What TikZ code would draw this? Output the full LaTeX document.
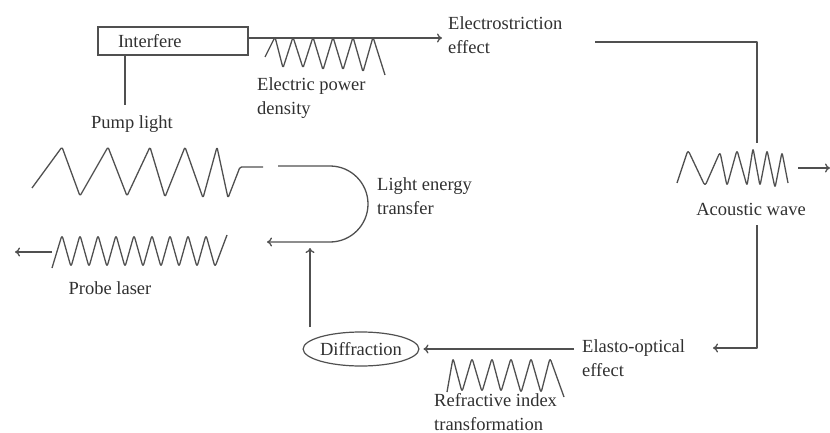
\documentclass[tikz,border=0pt]{standalone}
\usepackage{fontspec}
\setmainfont{Liberation Serif}
\usetikzlibrary{arrows.meta,shapes.geometric}
\definecolor{ln}{HTML}{505050}
\definecolor{tx}{HTML}{303030}
\begin{document}
\begin{tikzpicture}[x=1pt,y=-1pt,
  line/.style={draw=ln,line width=1.3pt,line join=round},
  wave/.style={draw=ln,line width=1.3pt,line join=round,rounded corners=1.5pt},
  swave/.style={draw=ln,line width=1.3pt,line join=round,rounded corners=3pt},
  arr/.style={line,-{To[length=5pt,width=9pt]}},
  lbl/.style={text=tx,inner sep=0pt,align=left,font=\fontsize{18.5}{23.5}\selectfont},
  clbl/.style={text=tx,inner sep=0pt,align=center,font=\fontsize{18.5}{23.5}\selectfont}]
\useasboundingbox (0,0) rectangle (830,433);

% Interfere box
\node[draw=ln,line width=1.3pt,minimum width=150pt,minimum height=28pt,inner xsep=20pt,text width=110pt,align=left,text=tx,font=\fontsize{18.5}{23.5}\selectfont] (interfere) at (173,41) {Interfere};

% Labels
\node[lbl,anchor=west] (es) at (448,35) {Electrostriction\\effect};
\node[lbl,anchor=west] (epd) at (257,98) {Electric power\\density};
\node[clbl] (pump) at (132,124) {Pump light};
\node[clbl] (probe) at (110,288) {Probe laser};
\node[lbl,anchor=west] (let) at (377,196) {Light energy\\transfer};
\node[clbl] (ac) at (751,209) {Acoustic wave};
\node[lbl,anchor=west] (eo) at (582,358) {Elasto-optical\\effect};
\node[lbl,anchor=west] (rit) at (434,412) {Refractive index\\transformation};
\node[draw=ln,line width=1.2pt,ellipse,minimum width=113pt,minimum height=34pt,inner sep=0pt,text=tx,font=\fontsize{18.5}{23.5}\selectfont] (diff) at (361,349) {Diffraction};

% Interfere -> Electrostriction
\draw[arr] ([yshift=3pt]interfere.east) -- ([yshift=3pt,xshift=-6pt]interfere.east -| es.west);
% Interfere down to pump light
\coordinate (pl) at (125,105);
\draw[line] (pl |- interfere.south) -- (pl);

% Electric power density wave
\draw[wave] (265,57) -- (275,37) -- (283,68) -- (293,37) -- (303,68) -- (313,37) -- (323,70) -- (333,37) -- (343,70) -- (353,37) -- (363,72) -- (373,37) -- (385,75);

% Electrostriction -> acoustic
\coordinate (c1) at (595,42);
\coordinate (c2) at (757,143);
\draw[line] (c1) -| (c2);

% Acoustic wave
\draw[swave] (677,183) -- (688,150) -- (705,186) -- (720,152) -- (727,186) -- (737,150) -- (747,186) -- (753,148) -- (760,186) -- (767,150) -- (775,188) -- (782,152) -- (788,183);
\coordinate (ao1) at (798,168);
\coordinate (ao2) at (830,168);
\draw[arr] (ao1) -- (ao2);

% Acoustic -> elasto-optical
\coordinate (c3) at (757,225);
\coordinate (c4) at (713,348);
\draw[arr] (c3) |- (c4);

% Elasto-optical -> Diffraction
\draw[arr] ([xshift=-8pt]eo.west |- diff.east) -- ([xshift=4pt]diff.east);

% Refractive index wave
\draw[swave] (447,392) -- (453,358) -- (462,392) -- (472,358) -- (482,392) -- (492,358) -- (501,392) -- (511,358) -- (521,393) -- (531,358) -- (541,393) -- (550,358) -- (564,397);

% Diffraction up arrow
\coordinate (v1) at (310,327);
\coordinate (v2) at (310,248);
\draw[arr] (v1) -- (v2);

% Pump light wave
\draw[wave] (32,188) -- (62,147) -- (80,196) -- (108,147) -- (127,196) -- (150,147) -- (165,197) -- (185,147) -- (203,198) -- (217,147) -- (228,198) -- (240,167) -- (263,167);

% Light energy transfer loop
\coordinate (l1) at (278,166);
\coordinate (l2) at (267,242);
\draw[arr] (l1) -- (330,166) arc[start angle=-90,end angle=90,radius=38] -- (l2);

% Probe laser wave
\draw[swave] (52,268) -- (62,235) -- (71,267) -- (80,235) -- (89,267) -- (98,235) -- (107,267) -- (116,235) -- (125,267) -- (134,235) -- (143,267) -- (152,235) -- (161,267) -- (170,235) -- (179,267) -- (188,235) -- (197,267) -- (206,235) -- (215,267) -- (227,235);
\coordinate (p1) at (52,252);
\coordinate (p2) at (15,252);
\draw[arr] (p1) -- (p2);
\end{tikzpicture}
\end{document}
